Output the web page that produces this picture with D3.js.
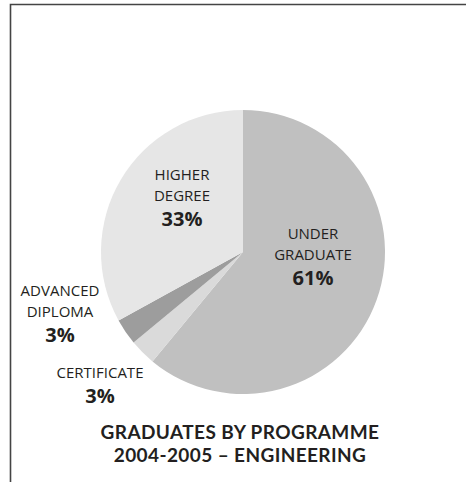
<!DOCTYPE html>
<html><head><meta charset="utf-8">
<script src="https://cdn.jsdelivr.net/npm/d3@7"></script>
<style>body{margin:0;background:#fff}</style>
</head><body>
<svg id="c" width="466" height="482"></svg>
<script>
const categories = ["UNDER GRADUATE", "CERTIFICATE", "ADVANCED DIPLOMA", "HIGHER DEGREE"];
const values = [61, 3, 3, 33];
const colors = ["#c0c0c0", "#dadada", "#9d9d9d", "#e6e6e6"];
const labelLines = [["UNDER", "GRADUATE"], ["CERTIFICATE"], ["ADVANCED", "DIPLOMA"], ["HIGHER", "DEGREE"]];
const percentLabels = ["61%", "3%", "3%", "33%"];
const titleLines = ["GRADUATES BY PROGRAMME", "2004-2005 – ENGINEERING"];

const svg = d3.select("#c");
const font = "'Open Sans', 'Liberation Sans', sans-serif";

// frame
svg.append("path").attr("d", "M10.5,482 L10.5,4.5 L466,4.5")
  .attr("fill", "none").attr("stroke", "#444").attr("stroke-width", 1.6);

const cx = 243, cy = 252, r = 142;
const pie = d3.pie().sort(null).value(d => d)(values);
const arc = d3.arc().innerRadius(0).outerRadius(r);
const g = svg.append("g").attr("transform", `translate(${cx},${cy})`);
g.selectAll("path").data(pie).join("path")
  .attr("d", arc).attr("fill", (d, i) => colors[i]);

// label positions (absolute)
const labelPos = [
  {x: 313, y: 239},
  {x: 100, y: 378},
  {x: 60, y: 296},
  {x: 182, y: 180}
];
const lineH = 20.5;
labelLines.forEach((lines, i) => {
  const p = labelPos[i];
  const t = svg.append("text").attr("text-anchor", "middle")
    .attr("font-family", font).attr("fill", "#231f20");
  lines.forEach((ln, j) => {
    t.append("tspan").attr("x", p.x).attr("y", p.y + j * lineH)
      .attr("font-size", 15).text(ln);
  });
  t.append("tspan").attr("x", p.x).attr("y", p.y + lines.length * lineH + 4.5)
    .attr("font-size", 20).attr("font-weight", "bold").text(percentLabels[i]);
});

titleLines.forEach((ln, i) => {
  svg.append("text").attr("x", 240).attr("y", 439 + i * 23)
    .attr("text-anchor", "middle").attr("font-family", "Lato, 'Open Sans', sans-serif")
    .attr("font-size", 19).attr("font-weight", "bold").attr("fill", "#231f20")
    .attr("letter-spacing", "0.4")
    .text(ln);
});
</script>
</body></html>
